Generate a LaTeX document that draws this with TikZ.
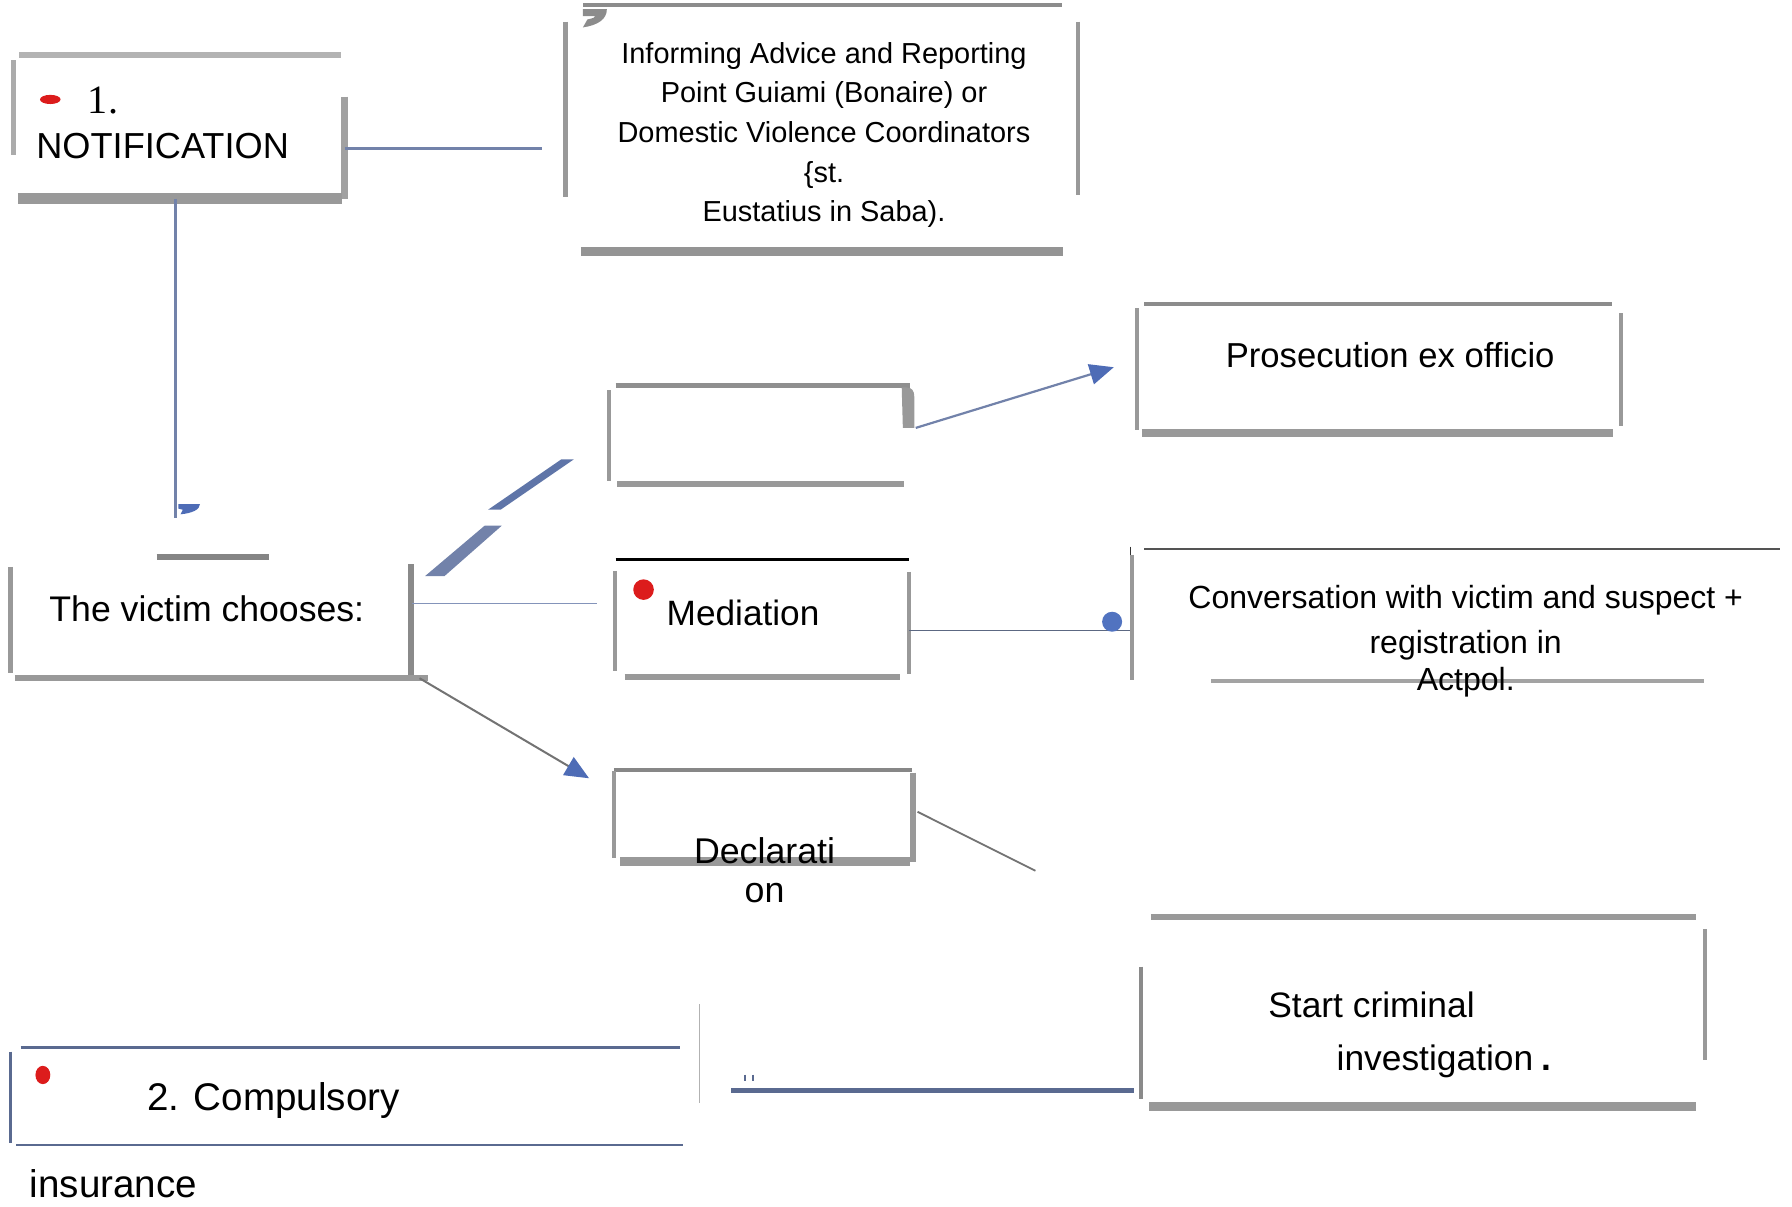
\documentclass[tikz,border=0pt]{standalone}
\usepackage{fontspec}
\setmainfont{Liberation Sans}
\newfontfamily\numfont{Liberation Serif}
\usetikzlibrary{positioning, arrows.meta, shapes.geometric}
\definecolor{bargray}{HTML}{999999}
\definecolor{lightbar}{HTML}{B3B3B3}
\definecolor{darkbar}{HTML}{858585}
\definecolor{linkblue}{HTML}{7282AA}
\definecolor{strokeblue}{HTML}{5F75A8}
\definecolor{thinblue}{HTML}{8494BA}
\definecolor{tipblue}{HTML}{4E6CB6}
\definecolor{dotblue}{HTML}{5173C0}
\definecolor{dotred}{HTML}{DC1C1C}
\definecolor{navyline}{HTML}{5A6A90}
\tikzset{
boxframe/.style={shape=rectangle, inner sep=0, outer sep=0}, edgebar/.style={draw=bargray, line width=#1}, edgebar/.default=1.2pt,
txt/.style={inner sep=0, outer sep=0, font=\fontsize{#1}{12pt}\selectfont}, blob/.style={shape=ellipse, inner sep=0, outer sep=0},
link/.style={draw=linkblue, line width=0.6pt}, thinlink/.style={draw=thinblue, line width=0.4pt},
tiparrow/.style={-{Triangle[length=2.1mm, width=1.8mm, color=tipblue]}}}
\begin{document}
\begin{tikzpicture}[x=0.01cm, y=-0.01cm]
\useasboundingbox (0,0) rectangle (1568,1056);
% frames
\node [boxframe, minimum width=2.90cm, minimum height=1.26cm] at (156.5,111) (notif) {};
\node [boxframe, minimum width=4.48cm, minimum height=2.16cm] at (719.2,112.2) (info) {};
\node [boxframe, minimum width=2.63cm, minimum height=0.86cm] at (664.5,380.5) (upper) {};
\node [boxframe, minimum width=4.23cm, minimum height=1.13cm] at (1206.5,322.4) (prosec) {};
\node [boxframe, minimum width=3.51cm, minimum height=1.05cm] at (184.7,540.4) (victim) {};
\node [boxframe, minimum width=2.57cm, minimum height=1.03cm] at (666.6,541) (media) {};
\node [boxframe, minimum width=5.67cm, minimum height=1.15cm] at (1273.8,538.4) (conv) {};
\node [boxframe, minimum width=2.62cm, minimum height=0.80cm] at (668,713.8) (decl) {};
\node [boxframe, minimum width=4.94cm, minimum height=1.66cm] at (1245.3,885.4) (start) {};
\node [boxframe, minimum width=5.89cm, minimum height=0.85cm] at (303.8,959.2) (compul) {};
% broken borders
\draw [edgebar=1.6pt, draw=lightbar] (16.7,48) -- (298,48);
\draw [edgebar=1.4pt, draw=black!33] (11.7,52.5) -- (11.7,135.6);
\draw [edgebar=1.7pt, draw=black!37] (301.4,84.6) -- (301.4,174.1);
\draw [edgebar=2.7pt] (15.7,174) -- (299,174);
\draw [edgebar=1.1pt, draw=black!45] (510.4,4.4) -- (929.3,4.4);
\fill [black!45] (510,8) -- (531,8) .. controls (531,17) and (523,22) .. (510,24) -- (514,17) .. controls (519,16) and (521,15) .. (521,14) -- (510,14) -- cycle;
\draw [edgebar=1.3pt] (495,19) -- (495,172);
\draw [edgebar=1.1pt] (943.3,19) -- (943.3,170.6);
\draw [edgebar=2.3pt, draw=black!42] (508.3,220) -- (930,220);
\draw [edgebar=1.2pt, draw=black!44] (538.7,337.4) -- (796.6,337.4);
\draw [edgebar=1.1pt] (533,341.6) -- (533,421.2);
\fill [bargray] (789,339) -- (793,339) .. controls (798,339) and (800,342) .. (800,347) -- (800,374.4) -- (790,374.4) -- cycle;
\draw [edgebar=1.4pt] (540.3,423.6) -- (791.3,423.6);
\draw [edgebar=1pt, draw=black!45] (1001.1,266) -- (1410.4,266);
\draw [edgebar=0.9pt] (995,269.8) -- (995,376.3);
\draw [edgebar=1pt] (1418,274.2) -- (1418,372.8);
\draw [edgebar=1.9pt] (999.2,378.7) -- (1411.2,378.7);
\draw [edgebar=1.5pt, draw=darkbar] (137,487.7) -- (235,487.7);
\draw [edgebar=1.2pt] (9.3,496) -- (9.3,589);
\draw [edgebar=1.5pt, draw=black!46] (360,493.5) -- (360,590.6);
\draw [edgebar=1.4pt] (13.1,593) -- (374.7,593);
\draw [edgebar=0.9pt, draw=black] (538.7,489.4) -- (795,489.4);
\draw [edgebar=1pt] (538,499.4) -- (538,586.9);
\draw [edgebar=1pt] (795.2,500.3) -- (795.2,589.4);
\draw [edgebar=1.5pt] (546.5,592.7) -- (787.8,592.7);
\draw [edgebar=0.45pt, draw=black!67] (1001.1,480.7) -- (1557.2,480.7);
\draw [edgebar=0.3pt, draw=black!80] (989,478.3) -- (989,486.5);
\draw [edgebar=0.9pt] (990.3,485.6) -- (990.3,595);
\draw [edgebar=0.9pt, draw=black!36] (1059.8,596) -- (1490.7,596);
\draw [edgebar=0.9pt, draw=black!47] (537.2,673.8) -- (798.1,673.8);
\draw [edgebar=1pt] (537,674.4) -- (537,751);
\draw [edgebar=1.6pt] (799,676) -- (799,754);
\draw [edgebar=2pt] (542.8,753.8) -- (796.6,753.8);
\draw [edgebar=1.4pt] (1007,802.5) -- (1484,802.5);
\draw [edgebar=1pt, draw=black!46] (998.5,845.8) -- (998.5,961.6);
\draw [edgebar=0.9pt] (1492,813.2) -- (1492,927.5);
\draw [edgebar=2.1pt] (1005.5,968.3) -- (1484,968.3);
\draw [edgebar=0.6pt, draw=navyline] (18,916.7) -- (595,916.7);
\draw [edgebar=0.7pt, draw=navyline] (9.5,920.2) -- (9.5,1000.4);
\draw [edgebar=0.6pt, draw=navyline] (14,1001.7) -- (598,1001.7);
\draw [edgebar=0.4pt, draw=black!30] (612,878.8) -- (612,965.4);
\draw [edgebar=0.35pt, draw=navyline] (652,940.3) -- (652,945.9) (659,940.3) -- (659,945.9);
% texts
\node [blob, fill=dotred, minimum width=0.18cm, minimum height=0.08cm] at (44,87) (notif-dot) {};
\node [txt=10pt, anchor=base west] at (77,99) (notif-num) {\numfont 1.};
\node [txt=9pt, anchor=base west] at (31.8,138.5) (notif-txt) {NOTIFICATION};
\foreach \line [count=\i] in {Informing Advice and Reporting, Point Guiami (Bonaire) or, Domestic Violence Coordinators, \{st., Eustatius in Saba).}
  \node [txt=7.2pt, anchor=base] at (721, 20.5+34.7*\i) (info-\i) {\line};
\node [txt=8.62pt, anchor=base] at (1216.4,321.4) (prosec-txt) {Prosecution ex officio};
\node [txt=8.86pt, anchor=base west] at (43.3,544) (victim-txt) {The victim chooses:};
\node [blob, fill=dotred, minimum size=0.18cm] at (563.1,515.9) (media-dot) {};
\node [txt=8.76pt, anchor=base west] at (583.4,547.2) (media-txt) {Mediation};
\foreach \line/\yy [count=\i] in {Conversation with victim and suspect +/532.3, registration in/571.7, Actpol./603.8}
  \node [txt=7.97pt, anchor=base] at (1282.5,\yy) (conv-\i) {\line};
\foreach \line/\yy [count=\i] in {Declarati/755.6, on/790}
  \node [txt=8.9pt, anchor=base] at (669,\yy) (decl-\i) {\line};
\node [txt=8.8pt, anchor=base west] at (1109.8,890.2) (start-1) {Start criminal};
\node [txt=8.8pt, anchor=base west] at (1169.6,936.3) (start-2) {investigation\hspace{2pt}{\bfseries.}};
\node [blob, fill=dotred, minimum width=0.13cm, minimum height=0.16cm] at (37.5,940.6) (compul-dot) {};
\node [txt=9.6pt, anchor=base west] at (129,971.3) (compul-1) {2. Compulsory};
\node [txt=9.6pt, anchor=base west] at (26,1048) (compul-2) {insurance};
% connectors
\coordinate (info-in) at (474,129.8);
\coordinate (victim-in) at (153.4,453.6);
\coordinate (media-in) at (522.4,528);
\coordinate (conv-in) at (988.8,551.6);
\coordinate (decl-out) at (906,761.9);
\coordinate (compul-out) at (640,954.2);
\coordinate (start-in) at ([shift={(-5.5,0)}]start.west);
\draw [link] (notif.east |- info-in) -- (info-in);
\draw [link] (notif.south -| victim-in) -- (victim-in);
\fill [tipblue] (156,441) -- (175,441) .. controls (175,446) and (168,449) .. (158,450) -- (160,446) -- (156,445) -- cycle;
\fill [strokeblue] (427,446) -- (438,446) -- (502,402) -- (491,402) -- cycle;
\fill [linkblue] (372,504) -- (389,504) -- (439,460) -- (424,460) -- cycle;
\draw [thinlink] (victim.east |- media-in) -- (media-in);
\draw [tiparrow, draw=black!55, line width=0.5pt] ([shift={(6.8,0.5)}]victim.south east) -- ([shift={(-21.5,7.2)}]decl.north west);
\draw [tiparrow, draw=linkblue, line width=0.55pt] ([shift={(5.2,-6.1)}]upper.east) -- ([shift={(-20.3,-1.1)}]prosec.west);
\draw [thinlink, draw=black!30!thinblue] (media.east |- conv-in) -- (conv-in);
\node [blob, fill=dotblue, minimum size=0.175cm] at (973.1,544) (conv-dot) {};
\draw [draw=black!55, line width=0.45pt] ([shift={(3.8,-3.5)}]decl.east) -- (decl-out);
\draw [draw=navyline, line width=1.15pt] (compul-out) -- (start-in |- compul-out);
\end{tikzpicture}
\end{document}
